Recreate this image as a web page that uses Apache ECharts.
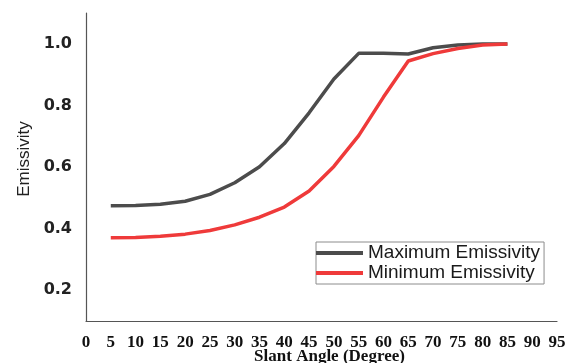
<!DOCTYPE html>
<html>
<head>
<meta charset="utf-8">
<script src="https://cdn.jsdelivr.net/npm/echarts@6/dist/echarts.min.js"></script>
<style>
  html, body { margin: 0; padding: 0; background: #ffffff; }
  #chart { width: 572px; height: 363px; }
</style>
</head>
<body>
<div id="chart"></div>
<script>
// Slant angle samples (degrees) and the emissivity envelope at each angle
const slantAngles = [5, 10, 15, 20, 25, 30, 35, 40, 45, 50, 55, 60, 65, 70, 75, 80, 85];
const maxEmissivity = [0.474, 0.475, 0.479, 0.489, 0.511, 0.549, 0.601, 0.676, 0.776, 0.886, 0.969, 0.969, 0.967, 0.987, 0.996, 0.999, 0.999];
const minEmissivity = [0.37, 0.371, 0.375, 0.382, 0.394, 0.412, 0.437, 0.47, 0.522, 0.602, 0.702, 0.827, 0.944, 0.968, 0.985, 0.996, 0.999];
const yTickLabels = ['0.2', '0.4', '0.6', '0.8', '1.0'];

const seriesNames = ['Maximum Emissivity', 'Minimum Emissivity'];
const seriesColors = ['#4c4c4c', '#ef3a3a'];

const pairs = (ys) => slantAngles.map((x, i) => [x, ys[i]]);

const chart = echarts.init(document.getElementById('chart'), null, { renderer: 'canvas' });

chart.setOption({
  animation: false,
  backgroundColor: '#ffffff',
  grid: { left: 86, right: 15, top: 13, bottom: 42, containLabel: false, outerBoundsMode: 'none' },
  legend: {
    orient: 'vertical',
    left: 316,
    top: 242,
    padding: [1, 4, 1, 0],
    itemGap: 0,
    itemWidth: 47,
    itemHeight: 4,
    icon: 'rect',
    borderColor: '#8c8c8c',
    borderWidth: 1,
    data: seriesNames,
    textStyle: {
      fontFamily: 'Liberation Sans',
      fontSize: 19,
      lineHeight: 20,
      color: '#1a1a1a'
    }
  },
  xAxis: {
    type: 'value',
    min: 0,
    max: 95,
    interval: 5,
    name: 'Slant Angle (Degree)',
    nameLocation: 'middle',
    nameGap: 27,
    nameMoveOverlap: false,
    nameTextStyle: {
      fontFamily: 'Liberation Serif',
      fontWeight: 'bold',
      fontSize: 17,
      color: '#111111',
      padding: [0, 0, 0, 16]
    },
    axisLine: { show: true, lineStyle: { color: '#555555', width: 1.2 } },
    axisTick: { show: false },
    splitLine: { show: false },
    axisLabel: {
      margin: 13,
      fontFamily: 'Liberation Serif',
      fontWeight: 'bold',
      fontSize: 17,
      color: '#111111'
    }
  },
  yAxis: {
    type: 'value',
    min: 0.1,
    max: 1.1,
    interval: 0.1,
    name: 'Emissivity',
    nameLocation: 'middle',
    nameGap: 53,
    nameRotate: 90,
    nameMoveOverlap: false,
    nameTextStyle: {
      fontFamily: 'Liberation Sans',
      fontSize: 17,
      color: '#222222',
      padding: [0, 0, 0, 16]
    },
    axisLine: { show: true, lineStyle: { color: '#555555', width: 1.2 } },
    axisTick: { show: false },
    splitLine: { show: false },
    axisLabel: {
      margin: 14,
      fontFamily: 'DejaVu Sans',
      fontWeight: 'bold',
      fontSize: 16,
      color: '#222222',
      formatter: (v) => {
        const s = v.toFixed(1);
        return yTickLabels.includes(s) ? s : '';
      }
    }
  },
  series: seriesNames.map((name, i) => ({
    name,
    type: 'line',
    data: pairs(i === 0 ? maxEmissivity : minEmissivity),
    showSymbol: false,
    symbol: 'none',
    smooth: false,
    z: i === 0 ? 2 : 3,
    lineStyle: { color: seriesColors[i], width: 3.5 },
    itemStyle: { color: seriesColors[i] }
  }))
});
</script>
</body>
</html>
